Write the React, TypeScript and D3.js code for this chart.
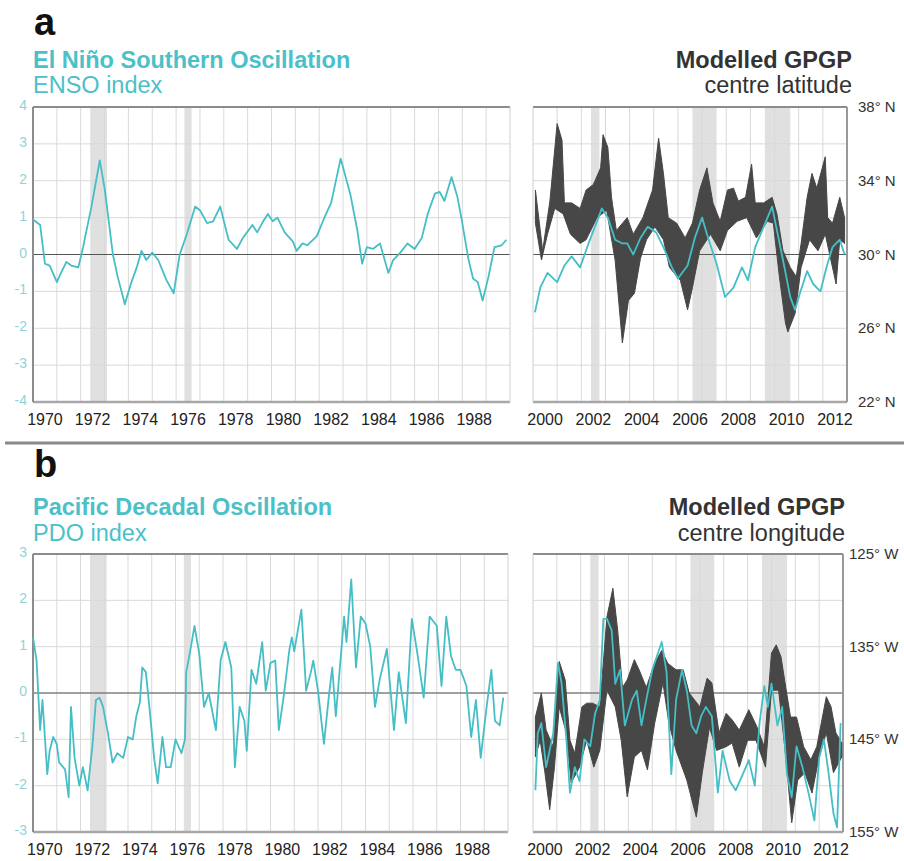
import React, { useEffect, useRef } from 'react'
import * as d3 from 'd3'

type Pt = [number, number]

const FONT = 'Arial, "Liberation Sans", Helvetica, sans-serif'
const TEAL = '#45bec6'
const TEAL_TITLE = '#4cc0c8'
const TEAL_TICK = '#8fd3d8'
const BAND = '#474747'

// ENSO index 1970-1990 [year, index]
const ensoEarly: Pt[] = [
  [1970.0, 0.95], [1970.3, 0.8], [1970.5, -0.25], [1970.7, -0.3], [1971.0, -0.75], [1971.1, -0.6],
  [1971.4, -0.2], [1971.6, -0.3], [1971.9, -0.35], [1972.1, 0.2], [1972.45, 1.3], [1972.8, 2.55],
  [1973.0, 1.8], [1973.1, 1.3], [1973.35, 0.0], [1973.55, -0.6], [1973.85, -1.35], [1974.1, -0.8],
  [1974.35, -0.35], [1974.55, 0.1], [1974.75, -0.15], [1975.0, 0.05], [1975.25, -0.15], [1975.6, -0.7],
  [1975.9, -1.05], [1976.15, 0.0], [1976.45, 0.55], [1976.8, 1.3], [1977.0, 1.2], [1977.3, 0.85],
  [1977.55, 0.9], [1977.85, 1.3], [1978.2, 0.4], [1978.55, 0.15], [1978.8, 0.45], [1979.2, 0.8],
  [1979.4, 0.6], [1979.65, 0.9], [1979.85, 1.1], [1980.05, 0.9], [1980.25, 1.0], [1980.55, 0.6],
  [1980.9, 0.35], [1981.05, 0.1], [1981.3, 0.3], [1981.5, 0.25], [1981.9, 0.5], [1982.25, 1.05],
  [1982.5, 1.4], [1982.9, 2.6], [1983.3, 1.65], [1983.6, 0.65], [1983.8, -0.25], [1984.0, 0.2],
  [1984.25, 0.15], [1984.55, 0.3], [1984.9, -0.5], [1985.1, -0.15], [1985.4, 0.05], [1985.7, 0.3],
  [1986.0, 0.15], [1986.3, 0.45], [1986.55, 1.1], [1986.85, 1.65], [1987.05, 1.7], [1987.25, 1.45],
  [1987.55, 2.1], [1987.8, 1.55], [1988.0, 0.85], [1988.25, -0.1], [1988.45, -0.65], [1988.65, -0.75],
  [1988.85, -1.25], [1989.1, -0.6], [1989.35, 0.2], [1989.65, 0.25], [1989.85, 0.4]
]

// ENSO index 2000-2013
const ensoLate: Pt[] = [
  [2000.08, -1.57], [2000.3, -0.9], [2000.6, -0.5], [2001.0, -0.75], [2001.3, -0.3], [2001.6, -0.05],
  [2001.95, -0.35], [2002.3, 0.3], [2002.65, 0.9], [2002.85, 1.25], [2003.1, 1.0], [2003.4, 0.4],
  [2003.7, 0.3], [2003.9, 0.3], [2004.15, 0.0], [2004.45, 0.45], [2004.75, 0.75], [2005.1, 0.6],
  [2005.4, 0.2], [2005.75, -0.35], [2006.0, -0.65], [2006.4, -0.3], [2006.7, 0.45], [2007.0, 1.0],
  [2007.25, 0.45], [2007.6, -0.25], [2007.95, -1.15], [2008.3, -0.9], [2008.65, -0.35], [2008.9, -0.7],
  [2009.2, 0.2], [2009.55, 0.75], [2009.9, 1.3], [2010.1, 0.65], [2010.35, -0.15], [2010.65, -1.15],
  [2010.85, -1.5], [2011.05, -1.05], [2011.35, -0.45], [2011.6, -0.8], [2011.9, -1.0], [2012.15, -0.35],
  [2012.4, 0.2], [2012.7, 0.4], [2012.9, 0.0]
]

// modelled GPGP centre latitude envelope, degrees N
const latUpper: Pt[] = [
  [2000.1, 33.5], [2000.3, 31.3], [2000.4, 30.2], [2000.7, 32.9], [2001.0, 37.1], [2001.2, 36.2],
  [2001.3, 32.8], [2001.6, 32.8], [2001.95, 32.5], [2002.2, 33.5], [2002.5, 33.8], [2002.8, 34.7],
  [2002.9, 36.5], [2003.1, 35.8], [2003.25, 33.1], [2003.45, 31.3], [2003.9, 32.0], [2004.15, 31.1],
  [2004.55, 32.0], [2004.95, 33.5], [2005.2, 36.3], [2005.4, 34.4], [2005.6, 32.0], [2005.95, 31.7],
  [2006.3, 30.9], [2006.6, 31.7], [2006.9, 33.5], [2007.2, 34.7], [2007.45, 32.8], [2007.75, 31.8],
  [2008.05, 33.5], [2008.3, 33.6], [2008.5, 32.9], [2008.8, 33.1], [2009.05, 34.9], [2009.2, 32.8],
  [2009.55, 32.8], [2009.9, 33.1], [2010.1, 32.2], [2010.35, 30.2], [2010.65, 29.3], [2010.9, 28.8],
  [2011.1, 30.6], [2011.35, 33.1], [2011.55, 34.4], [2011.75, 33.6], [2012.1, 35.3], [2012.2, 32.0],
  [2012.4, 31.7], [2012.7, 33.1], [2012.9, 32.0]
]
const latLower: Pt[] = [
  [2000.1, 31.7], [2000.35, 29.7], [2000.6, 31.1], [2000.9, 32.5], [2001.25, 32.2], [2001.55, 31.1],
  [2001.95, 30.6], [2002.2, 30.8], [2002.65, 32.0], [2003.05, 32.4], [2003.4, 29.7], [2003.7, 25.2],
  [2003.95, 27.5], [2004.2, 27.9], [2004.45, 29.8], [2004.7, 30.8], [2005.05, 31.5], [2005.4, 30.8],
  [2005.65, 29.3], [2006.1, 28.6], [2006.4, 27.0], [2006.6, 28.2], [2006.9, 30.2], [2007.35, 31.1],
  [2007.75, 30.2], [2008.05, 31.3], [2008.45, 31.8], [2008.85, 32.0], [2009.25, 30.9], [2009.7, 31.8],
  [2009.95, 31.7], [2010.2, 28.8], [2010.45, 26.3], [2010.55, 25.8], [2010.85, 26.8], [2011.1, 29.3],
  [2011.45, 30.8], [2011.8, 30.2], [2012.1, 31.1], [2012.55, 28.4], [2012.7, 30.8], [2012.9, 30.6]
]

// PDO index 1970-1990
const pdoEarly: Pt[] = [
  [1970.0, 1.2], [1970.15, 0.7], [1970.3, -0.8], [1970.4, -0.15], [1970.6, -1.75], [1970.7, -1.25],
  [1970.85, -0.95], [1971.0, -1.1], [1971.1, -1.5], [1971.35, -1.65], [1971.5, -2.25], [1971.6, -0.3],
  [1971.75, -1.4], [1971.95, -2.0], [1972.1, -1.6], [1972.3, -2.1], [1972.5, -1.15], [1972.65, -0.15],
  [1972.8, -0.1], [1972.95, -0.3], [1973.15, -0.85], [1973.35, -1.5], [1973.55, -1.3], [1973.8, -1.4],
  [1974.0, -0.95], [1974.2, -1.0], [1974.35, -0.5], [1974.5, -0.2], [1974.6, 0.55], [1974.75, 0.45],
  [1974.9, -0.3], [1975.1, -1.4], [1975.25, -1.95], [1975.45, -0.95], [1975.6, -1.6], [1975.8, -1.6],
  [1976.0, -1.0], [1976.25, -1.3], [1976.4, -1.0], [1976.45, 0.45], [1976.6, 0.85], [1976.8, 1.45],
  [1977.0, 0.85], [1977.2, -0.3], [1977.4, 0.0], [1977.7, -0.8], [1977.9, 0.7], [1978.1, 1.1],
  [1978.35, 0.55], [1978.5, -1.6], [1978.7, -0.3], [1978.9, -0.6], [1979.0, -1.25], [1979.2, 0.5],
  [1979.4, 0.2], [1979.65, 1.1], [1979.8, 0.05], [1980.0, 0.65], [1980.2, 0.7], [1980.35, -0.8],
  [1980.55, -0.1], [1980.8, 0.95], [1980.9, 1.2], [1981.0, 0.9], [1981.3, 1.8], [1981.5, 0.05],
  [1981.7, 0.45], [1981.8, 0.7], [1982.0, 0.05], [1982.25, -1.1], [1982.45, -0.1], [1982.6, 0.55],
  [1982.75, -0.5], [1983.1, 1.65], [1983.2, 1.1], [1983.4, 2.45], [1983.6, 0.55], [1983.8, 1.65],
  [1984.0, 1.5], [1984.2, 1.0], [1984.4, -0.3], [1984.6, 0.3], [1984.9, 0.95], [1985.2, -0.8],
  [1985.4, 0.45], [1985.7, -0.65], [1985.95, 1.6], [1986.2, 0.8], [1986.45, -0.1], [1986.7, 1.65],
  [1987.0, 1.45], [1987.2, 0.15], [1987.4, 1.65], [1987.6, 0.8], [1987.8, 0.5], [1988.0, 0.5],
  [1988.25, 0.15], [1988.45, -0.95], [1988.65, -0.15], [1988.85, -1.4], [1989.1, -0.3], [1989.3, 0.5],
  [1989.45, -0.6], [1989.65, -0.7], [1989.8, -0.1]
]

// PDO index 2000-2013
const pdoLate: Pt[] = [
  [2000.1, -2.1], [2000.2, -0.87], [2000.35, -0.65], [2000.55, -1.6], [2000.85, -0.87], [2001.05, 0.65],
  [2001.2, 0.2], [2001.4, -1.0], [2001.55, -2.15], [2001.75, -1.6], [2001.95, -1.9], [2002.15, -1.0],
  [2002.4, -1.15], [2002.6, -0.45], [2002.8, -0.15], [2002.95, 1.6], [2003.1, 1.6], [2003.3, 1.35],
  [2003.45, 0.2], [2003.65, 0.5], [2003.85, -0.7], [2004.15, -0.15], [2004.35, 0.05], [2004.55, -0.7],
  [2004.75, -0.15], [2005.0, 0.5], [2005.4, 1.1], [2005.6, 0.45], [2005.8, -1.75], [2006.0, -0.15],
  [2006.25, 0.5], [2006.45, 0.05], [2006.65, -0.7], [2006.85, -0.87], [2007.05, -0.5], [2007.25, -0.3],
  [2007.5, -0.5], [2007.75, -2.15], [2007.95, -1.25], [2008.25, -1.9], [2008.5, -2.1], [2008.8, -1.75],
  [2009.05, -1.45], [2009.3, -2.0], [2009.5, -0.65], [2009.7, 0.15], [2009.85, -0.3], [2010.0, 0.2],
  [2010.25, -0.7], [2010.45, -0.3], [2010.65, -1.75], [2010.85, -2.25], [2011.05, -1.15], [2011.3, -1.6],
  [2011.55, -2.15], [2011.8, -2.75], [2012.0, -1.4], [2012.2, -1.0], [2012.4, -1.75], [2012.6, -2.6],
  [2012.75, -2.9], [2012.9, -0.65]
]

// modelled GPGP centre longitude envelope, degrees W
const lonEast: Pt[] = [
  [2000.1, 142.6], [2000.35, 140.0], [2000.55, 144.0], [2000.85, 145.8], [2001.1, 136.6], [2001.35, 138.6],
  [2001.55, 145.1], [2001.75, 146.5], [2002.05, 141.5], [2002.25, 141.1], [2002.5, 141.1], [2002.8, 141.5],
  [2003.1, 131.8], [2003.35, 128.7], [2003.55, 133.2], [2003.75, 139.4], [2003.95, 138.6], [2004.25, 136.4],
  [2004.45, 137.5], [2004.75, 139.4], [2005.1, 136.8], [2005.4, 135.4], [2005.65, 136.8], [2006.0, 137.5],
  [2006.3, 137.5], [2006.55, 140.0], [2007.0, 141.5], [2007.3, 138.4], [2007.5, 138.9], [2007.8, 144.3],
  [2008.1, 142.2], [2008.35, 142.9], [2008.65, 144.0], [2009.05, 141.8], [2009.4, 143.7], [2009.7, 145.8],
  [2010.0, 135.7], [2010.2, 134.8], [2010.4, 136.1], [2010.6, 139.4], [2010.8, 142.6], [2011.05, 142.6],
  [2011.35, 145.8], [2011.65, 147.2], [2011.9, 145.8], [2012.3, 140.4], [2012.5, 141.5], [2012.7, 144.3],
  [2012.95, 145.4]
]
const lonWest: Pt[] = [
  [2000.1, 146.9], [2000.3, 145.1], [2000.5, 148.6], [2000.7, 152.6], [2000.9, 148.0], [2001.1, 141.5],
  [2001.4, 144.3], [2001.6, 149.7], [2001.95, 148.0], [2002.25, 145.1], [2002.55, 148.0], [2002.8, 146.2],
  [2003.1, 139.7], [2003.45, 141.5], [2003.7, 145.1], [2003.95, 151.2], [2004.25, 146.9], [2004.55, 146.2],
  [2004.8, 148.3], [2005.1, 143.3], [2005.45, 138.9], [2005.7, 143.3], [2006.0, 146.2], [2006.45, 149.4],
  [2006.85, 153.4], [2007.1, 148.6], [2007.4, 143.7], [2007.7, 146.2], [2008.1, 145.8], [2008.35, 145.4],
  [2008.65, 148.0], [2009.0, 145.1], [2009.35, 145.1], [2009.75, 148.0], [2010.0, 139.7], [2010.3, 139.7],
  [2010.6, 146.9], [2010.85, 154.0], [2011.1, 149.4], [2011.4, 148.6], [2011.7, 150.8], [2012.0, 146.9],
  [2012.3, 144.3], [2012.6, 148.6], [2012.95, 146.9]
]

const shadesEarly: Pt[] = [[1972.4, 1973.1], [1976.35, 1976.65]]
const shadesLate: Pt[] = [[2002.4, 2002.75], [2006.6, 2007.6], [2009.6, 2010.65]]

const yearLabelsEarly = [1970, 1972, 1974, 1976, 1978, 1980, 1982, 1984, 1986, 1988]
const yearLabelsLate = [2000, 2002, 2004, 2006, 2008, 2010, 2012]
const ensoTicks = [4, 3, 2, 1, 0, -1, -2, -3, -4]
const pdoTicks = [3, 2, 1, 0, -1, -2, -3]
const latGrid = [22, 24, 26, 28, 30, 32, 34, 36, 38]
const latLabels = [38, 34, 30, 26, 22]
const lonGrid = [125, 130, 135, 140, 145, 150, 155]
const lonLabels = [125, 135, 145, 155]

interface Frame {
  left: number; right: number; top: number; bottom: number
  years: [number, number]
  yDomain: [number, number]
  grid: number[]
  zero: number
  shades: Pt[]
  labels: number[]
  side: 'left' | 'right'
}

function frame(svg: any, c: Frame) {
  const x = d3.scaleLinear().domain(c.years).range([c.left, c.right])
  const y = d3.scaleLinear().domain(c.yDomain).range([c.bottom, c.top])
  const g = svg.append('g')

  g.selectAll('rect.shade').data(c.shades).join('rect')
    .attr('x', (d: Pt) => x(d[0])).attr('width', (d: Pt) => x(d[1]) - x(d[0]))
    .attr('y', c.top).attr('height', c.bottom - c.top)
    .attr('fill', '#e0e0e0')

  g.selectAll('line.v').data(d3.range(Math.ceil(c.years[0]) + 1, c.years[1])).join('line')
    .attr('x1', (d: number) => x(d)).attr('x2', (d: number) => x(d))
    .attr('y1', c.top).attr('y2', c.bottom)
    .attr('stroke', '#d9d9d9').attr('stroke-width', 1)

  g.selectAll('line.h').data(c.grid).join('line')
    .attr('x1', c.left).attr('x2', c.right)
    .attr('y1', (d: number) => y(d)).attr('y2', (d: number) => y(d))
    .attr('stroke', '#d9d9d9').attr('stroke-width', 1)

  g.append('line')
    .attr('x1', c.left).attr('x2', c.right).attr('y1', y(c.zero)).attr('y2', y(c.zero))
    .attr('stroke', '#555').attr('stroke-width', 1.2)

  // frame
  g.append('line').attr('x1', c.left).attr('x2', c.right).attr('y1', c.top).attr('y2', c.top)
    .attr('stroke', '#8c8c8c').attr('stroke-width', 2)
  g.append('line').attr('x1', c.left).attr('x2', c.right).attr('y1', c.bottom).attr('y2', c.bottom)
    .attr('stroke', '#a8a8a8').attr('stroke-width', 2.5)
  g.append('line').attr('x1', c.left).attr('x2', c.left).attr('y1', c.top).attr('y2', c.bottom)
    .attr('stroke', c.side === 'left' ? '#8c8c8c' : '#cfcfcf').attr('stroke-width', c.side === 'left' ? 2 : 1)
  g.append('line').attr('x1', c.right).attr('x2', c.right).attr('y1', c.top).attr('y2', c.bottom)
    .attr('stroke', c.side === 'right' ? '#999' : '#cfcfcf').attr('stroke-width', c.side === 'right' ? 2 : 1)

  g.selectAll('text.xl').data(c.labels).join('text')
    .attr('x', (d: number) => x(d + 0.5)).attr('y', c.bottom + 23)
    .attr('text-anchor', 'middle').attr('font-size', 16).attr('fill', '#222')
    .text((d: number) => d)

  return { x, y, g }
}

function draw(node: SVGSVGElement) {
  const svg = d3.select(node)
  svg.selectAll('*').remove()
  svg.attr('font-family', FONT)
  svg.append('rect').attr('width', 904).attr('height', 861).attr('fill', '#fff')

  const lineGen = (x: any, y: any) => d3.line<Pt>().x(d => x(d[0])).y(d => y(d[1]))
  const band = (x: any, y: any, a: Pt[], b: Pt[]) =>
    (d3.line<Pt>().x(d => x(d[0])).y(d => y(d[1]))([...a, ...b.slice().reverse()]) || '') + 'Z'

  // ---------- panel a ----------
  const aL = frame(svg, {
    left: 33, right: 510, top: 107, bottom: 402, years: [1970, 1990], yDomain: [-4, 4],
    grid: ensoTicks, zero: 0, shades: shadesEarly, labels: yearLabelsEarly, side: 'left'
  })
  aL.g.append('path').datum(ensoEarly).attr('d', lineGen(aL.x, aL.y))
    .attr('fill', 'none').attr('stroke', TEAL).attr('stroke-width', 1.8).attr('stroke-linejoin', 'round')
  aL.g.selectAll('text.yl').data(ensoTicks).join('text')
    .attr('x', 27).attr('y', (d: number) => aL.y(d) + 3)
    .attr('text-anchor', 'end').attr('font-size', 14).attr('fill', TEAL_TICK)
    .text((d: number) => d)

  const aR = frame(svg, {
    left: 533, right: 847, top: 107, bottom: 402, years: [2000, 2013], yDomain: [22, 38],
    grid: latGrid, zero: 30, shades: shadesLate, labels: yearLabelsLate, side: 'right'
  })
  aR.g.append('path').attr('d', band(aR.x, aR.y, latUpper, latLower))
    .attr('fill', BAND).attr('stroke', BAND).attr('stroke-width', 1).attr('stroke-linejoin', 'round')
  const ensoR = d3.scaleLinear().domain([-4, 4]).range([402, 107])
  aR.g.append('path').datum(ensoLate).attr('d', lineGen(aR.x, ensoR))
    .attr('fill', 'none').attr('stroke', TEAL).attr('stroke-width', 1.8).attr('stroke-linejoin', 'round')
  aR.g.selectAll('text.yr').data(latLabels).join('text')
    .attr('x', 858).attr('y', (d: number) => aR.y(d) + 5)
    .attr('font-size', 15).attr('fill', '#333')
    .text((d: number) => `${d}° N`)

  // ---------- panel b ----------
  const bL = frame(svg, {
    left: 33, right: 508, top: 554, bottom: 832, years: [1970, 1990], yDomain: [-3, 3],
    grid: pdoTicks, zero: 0, shades: shadesEarly, labels: yearLabelsEarly, side: 'left'
  })
  bL.g.append('path').datum(pdoEarly).attr('d', lineGen(bL.x, bL.y))
    .attr('fill', 'none').attr('stroke', TEAL).attr('stroke-width', 1.8).attr('stroke-linejoin', 'round')
  bL.g.selectAll('text.yl').data(pdoTicks).join('text')
    .attr('x', 27).attr('y', (d: number) => bL.y(d) + 3)
    .attr('text-anchor', 'end').attr('font-size', 14).attr('fill', TEAL_TICK)
    .text((d: number) => d)

  const bR = frame(svg, {
    left: 533, right: 843, top: 554, bottom: 832, years: [2000, 2013], yDomain: [155, 125],
    grid: lonGrid, zero: 140, shades: shadesLate, labels: yearLabelsLate, side: 'right'
  })
  bR.g.append('path').attr('d', band(bR.x, bR.y, lonEast, lonWest))
    .attr('fill', BAND).attr('stroke', BAND).attr('stroke-width', 1).attr('stroke-linejoin', 'round')
  const pdoR = d3.scaleLinear().domain([-3, 3]).range([832, 554])
  bR.g.append('path').datum(pdoLate).attr('d', lineGen(bR.x, pdoR))
    .attr('fill', 'none').attr('stroke', TEAL).attr('stroke-width', 1.8).attr('stroke-linejoin', 'round')
  bR.g.selectAll('text.yr').data(lonLabels).join('text')
    .attr('x', 849).attr('y', (d: number) => bR.y(d) + 5)
    .attr('font-size', 15).attr('fill', '#333')
    .text((d: number) => `${d}° W`)

  // divider
  svg.append('line').attr('x1', 5).attr('x2', 904).attr('y1', 443).attr('y2', 443)
    .attr('stroke', '#8a8a8a').attr('stroke-width', 3)

  // titles
  const titles = [
    { t: 'a', x: 34, y: 35, size: 38, w: 'bold', fill: '#111', anchor: 'start' },
    { t: 'El Niño Southern Oscillation', x: 33, y: 68, size: 23.5, w: 'bold', fill: TEAL_TITLE, anchor: 'start' },
    { t: 'ENSO index', x: 33, y: 93, size: 23.5, w: 'normal', fill: TEAL_TITLE, anchor: 'start' },
    { t: 'Modelled GPGP', x: 852, y: 68, size: 23.5, w: 'bold', fill: '#333', anchor: 'end' },
    { t: 'centre latitude', x: 852, y: 93, size: 23.5, w: 'normal', fill: '#333', anchor: 'end' },
    { t: 'b', x: 34, y: 477, size: 38, w: 'bold', fill: '#111', anchor: 'start' },
    { t: 'Pacific Decadal Oscillation', x: 33, y: 515, size: 23.5, w: 'bold', fill: TEAL_TITLE, anchor: 'start' },
    { t: 'PDO index', x: 33, y: 541, size: 23.5, w: 'normal', fill: TEAL_TITLE, anchor: 'start' },
    { t: 'Modelled GPGP', x: 845, y: 515, size: 23.5, w: 'bold', fill: '#333', anchor: 'end' },
    { t: 'centre longitude', x: 845, y: 541, size: 23.5, w: 'normal', fill: '#333', anchor: 'end' }
  ]
  svg.selectAll('text.title').data(titles).join('text')
    .attr('x', d => d.x).attr('y', d => d.y)
    .attr('font-size', d => d.size).attr('font-weight', d => d.w)
    .attr('fill', d => d.fill).attr('text-anchor', d => d.anchor)
    .text(d => d.t)
}

export default function App() {
  const ref = useRef<SVGSVGElement>(null)
  useEffect(() => {
    if (ref.current) draw(ref.current)
  }, [])
  return (
    <svg ref={ref} width={904} height={861}
      style={{ position: 'absolute', left: 0, top: 0, display: 'block' }} />
  )
}
